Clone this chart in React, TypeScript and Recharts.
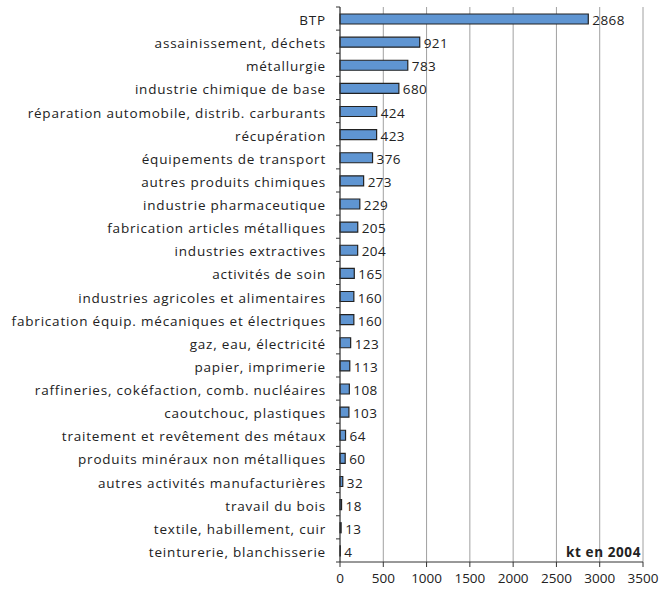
import { BarChart, Bar, XAxis, YAxis, CartesianGrid, LabelList } from 'recharts';

const categories = [
  'BTP',
  'assainissement, déchets',
  'métallurgie',
  'industrie chimique de base',
  'réparation automobile, distrib. carburants',
  'récupération',
  'équipements de transport',
  'autres produits chimiques',
  'industrie pharmaceutique',
  'fabrication articles métalliques',
  'industries extractives',
  'activités de soin',
  'industries agricoles et alimentaires',
  'fabrication équip. mécaniques et électriques',
  'gaz, eau, électricité',
  'papier, imprimerie',
  'raffineries, cokéfaction, comb. nucléaires',
  'caoutchouc, plastiques',
  'traitement et revêtement des métaux',
  'produits minéraux non métalliques',
  'autres activités manufacturières',
  'travail du bois',
  'textile, habillement, cuir',
  'teinturerie, blanchisserie',
];

const values = [2868, 921, 783, 680, 424, 423, 376, 273, 229, 205, 204, 165, 160, 160, 123, 113, 108, 103, 64, 60, 32, 18, 13, 4];

const xTicks = [0, 500, 1000, 1500, 2000, 2500, 3000, 3500];

const data = categories.map((name, i) => ({ name, value: values[i] }));

const FONT = '"Open Sans", sans-serif';
const TEXT = '#222';

const W = 666;
const H = 592;
const TOP = 7;
const BOTTOM = 30;
const AXIS_W = 340;
const RIGHT = 23;

// category labels plus the boundary ticks between categories
function CategoryTick(props: any) {
  const { y, payload, index } = props;
  const band = (H - TOP - BOTTOM) / categories.length;
  const ax = AXIS_W;
  return (
    <g>
      <text x={ax - 14} y={y} dy={6.5} textAnchor="end" fontSize={13.5} fontFamily={FONT} fill={TEXT} letterSpacing={0.8}>
        {payload.value}
      </text>
      <line x1={ax - 4} x2={ax} y1={y + band / 2} y2={y + band / 2} stroke="#333" />
      {index === 0 && <line x1={ax - 4} x2={ax} y1={y - band / 2} y2={y - band / 2} stroke="#333" />}
    </g>
  );
}

function ValueLabel(props: any) {
  const { x, y, width, height, value } = props;
  return (
    <text x={x + width + 4} y={y + height / 2} dy={6} fontSize={13.5} fontFamily={FONT} fill={TEXT} letterSpacing={0.4}>
      {value}
    </text>
  );
}

export default function App() {
  return (
    <div style={{ position: 'absolute', left: 0, top: 0, width: W, height: H }}>
      <BarChart
        width={W}
        height={H}
        data={data}
        layout="vertical"
        margin={{ top: TOP, right: RIGHT, bottom: 0, left: 0 }}
      >
        <CartesianGrid horizontal={false} stroke="#a0a0a0" />
        <XAxis
          type="number"
          domain={[0, 3500]}
          ticks={xTicks}
          height={BOTTOM}
          axisLine={{ stroke: '#333' }}
          tickLine={{ stroke: '#333' }}
          tickSize={5}
          tick={{ fontSize: 13.5, fontFamily: FONT, fill: TEXT, dy: 4 }}
        />
        <YAxis
          type="category"
          dataKey="name"
          width={AXIS_W}
          axisLine={{ stroke: '#333' }}
          tickLine={false}
          interval={0}
          tick={<CategoryTick />}
        />
        <Bar dataKey="value" barSize={10} fill="#5f95d2" stroke="#222" strokeWidth={1.2} isAnimationActive={false}>
          <LabelList dataKey="value" content={<ValueLabel />} />
        </Bar>
      </BarChart>
      <div
        style={{
          position: 'absolute',
          right: W - 641,
          top: 543,
          fontFamily: FONT,
          fontWeight: 'bold',
          fontSize: 13.5,
          letterSpacing: 0.6,
          color: TEXT,
        }}
      >
        kt en 2004
      </div>
    </div>
  );
}
